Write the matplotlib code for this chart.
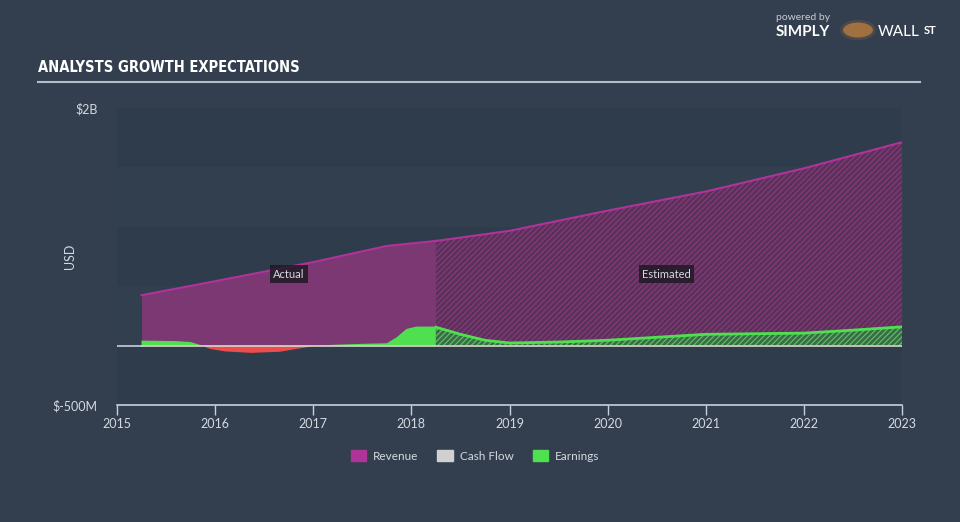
import numpy as np
import matplotlib
matplotlib.use("Agg")
import matplotlib.pyplot as plt
from matplotlib.patches import Patch

# values in USD millions
rev_act_x = [2015.25, 2016.0, 2017.0, 2017.75, 2018.25]
rev_act_y = [424, 542, 703, 839, 881]
rev_est_x = [2018.25, 2019.0, 2020.0, 2021.0, 2022.0, 2023.0]
rev_est_y = [881, 966, 1136, 1297, 1492, 1712]

earn_act_x = [2015.25, 2015.6, 2015.75, 2015.85, 2015.95, 2016.1, 2016.36, 2016.65,
              2016.85, 2017.0, 2017.25, 2017.5, 2017.75, 2017.85, 2017.95, 2018.05, 2018.25]
earn_act_y = [42, 38, 30, 5, -25, -45, -57, -48, -20, 0, 8, 15, 20, 70, 140, 160, 160]
earn_est_x = [2018.25, 2018.5, 2018.75, 2019.0, 2019.5, 2020.0, 2020.5, 2021.0,
              2021.5, 2022.0, 2022.5, 2023.0]
earn_est_y = [155, 95, 45, 22, 30, 45, 70, 95, 100, 105, 130, 158]

cash_x = [2015.25, 2018.25, 2023.0]
cash_y = [0, 0, 0]

year_ticks = [2015, 2016, 2017, 2018, 2019, 2020, 2021, 2022, 2023]

BG = "#333f4f"
TXT = "#d4d9e0"
REV = "#b0339a"
EARN = "#4fe050"
NEG = "#ee4c4c"

plt.rcParams["font.family"] = ["Lato", "DejaVu Sans"]
plt.rcParams["hatch.linewidth"] = 0.9

fig = plt.figure(figsize=(9.6, 5.22), dpi=100, facecolor=BG)
ax = fig.add_axes([117 / 960, 1 - 405 / 522, 785 / 960, 297 / 522])
ax.set_facecolor(BG)
ax.set_xlim(2015, 2023)
ax.set_ylim(-500, 2000)

# background bands
for i, lo in enumerate(range(-500, 2000, 500)):
    c = "#2f3c4b" if i % 2 == 0 else "#323f4e"
    ax.axhspan(lo, lo + 500, color=c, lw=0, zorder=0)

# revenue
ax.fill_between(rev_act_x, 0, rev_act_y, color="#7b3873", lw=0, zorder=1)
ax.plot(rev_act_x, rev_act_y, color=REV, lw=1.5, zorder=3)
ax.fill_between(rev_est_x, 0, rev_est_y, facecolor="#5a3158", edgecolor="#86397c",
                hatch="//////", lw=0, zorder=1)
ax.plot(rev_est_x, rev_est_y, color=REV, lw=1.5, zorder=3)

# earnings
ea_x = np.array(earn_act_x)
ea_y = np.array(earn_act_y)
ax.fill_between(ea_x, 0, ea_y, where=ea_y >= 0, interpolate=True, color=EARN, lw=0, zorder=2)
ax.fill_between(ea_x, 0, ea_y, where=ea_y <= 0, interpolate=True, color=NEG, lw=0, zorder=2)
ax.fill_between(earn_est_x, 0, earn_est_y, facecolor="#3b6a48", edgecolor="#5cc060",
                hatch="//////", lw=0, zorder=2)
ax.plot(earn_est_x, earn_est_y, color=EARN, lw=2, zorder=3)

# cash flow
ax.plot(cash_x, cash_y, color="#d8d8c8", lw=1.2, zorder=4)
ax.axhline(0, xmin=0, xmax=(2015.25 - 2015) / 8, color="#c8ced8", lw=1.2, zorder=4)

# labels on areas
box = dict(boxstyle="square,pad=0.3", facecolor="#1f1a24", edgecolor="none", alpha=0.85)
ax.text(2016.75, 600, "Actual", color=TXT, fontsize=8, ha="center", va="center", bbox=box, zorder=5)
ax.text(2020.6, 600, "Estimated", color=TXT, fontsize=8, ha="center", va="center", bbox=box, zorder=5)

# axes styling
for s in ["top", "right", "left"]:
    ax.spines[s].set_visible(False)
ax.spines["bottom"].set_color("#c8d0dc")
ax.spines["bottom"].set_linewidth(1.2)
ax.set_xticks(year_ticks)
ax.set_xticklabels([str(y) for y in year_ticks])
ax.tick_params(axis="x", colors="#c8d0dc", length=7, width=1, labelsize=9, labelcolor=TXT, pad=2)
ax.set_yticks([-500, 2000])
ax.set_yticklabels(["$-500M", "$2B"])
ax.tick_params(axis="y", length=0, labelsize=9, labelcolor=TXT, pad=14)
ax.set_ylabel("USD", color=TXT, fontsize=9)
ax.yaxis.set_label_coords(-0.052, 0.5)

# title and rule
fig.text(38 / 960, 1 - 68 / 522, "ANALYSTS GROWTH EXPECTATIONS", color="#ffffff",
         fontsize=10.5, fontweight="bold", family=["Liberation Sans Narrow", "DejaVu Sans"],
         va="center", ha="left", fontstretch="condensed")
fig.add_artist(plt.Line2D([38 / 960, 920 / 960], [1 - 82 / 522, 1 - 82 / 522],
                          color="#b8bec8", lw=1.5))

# brand
fig.text(776 / 960, 1 - 17 / 522, "powered by", color="#c8ccd2", fontsize=7.5, ha="left", va="center")
fig.text(776 / 960, 1 - 32 / 522, "SIMPLY", color="#ffffff", fontsize=11, fontweight="bold",
         ha="left", va="center")
fig.text(878 / 960, 1 - 32 / 522, "WALL", color="#ffffff", fontsize=11, ha="left", va="center")
fig.text(924 / 960, 1 - 30 / 522, "ST", color="#ffffff", fontsize=8, fontweight="bold",
         ha="left", va="center")
fig.patches.append(matplotlib.patches.Circle((858 / 960, 1 - 30 / 522), 0.017,
                   transform=fig.transFigure, facecolor="#a07040", edgecolor="#4a4a4a", lw=2))

# legend
handles = [Patch(color=REV, label="Revenue"), Patch(color="#d0d0d0", label="Cash Flow"),
           Patch(color=EARN, label="Earnings")]
fig.legend(handles=handles, loc="center", bbox_to_anchor=(475 / 960, 1 - 456 / 522), ncol=3,
           frameon=False, fontsize=8.5, labelcolor=TXT, handlelength=1.3, handleheight=1.0,
           columnspacing=1.6, handletextpad=0.6)

fig.savefig("out.png", dpi=100, facecolor=BG)
